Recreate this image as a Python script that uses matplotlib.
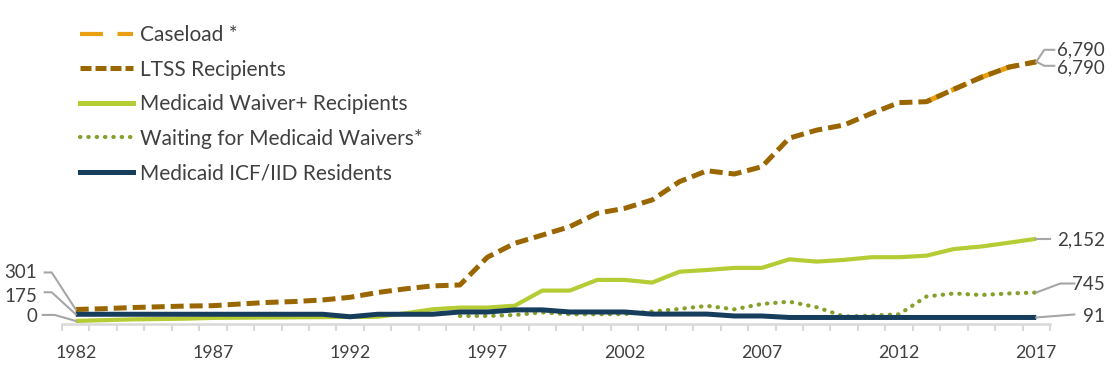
import matplotlib
matplotlib.use('Agg')
import matplotlib.pyplot as plt
from matplotlib.lines import Line2D
import numpy as np

plt.rcParams['font.family'] = ['Lato', 'DejaVu Sans']

years = list(range(1982, 2018))

ltss = [301, 320, 350, 370, 390, 400, 445, 485, 510, 550, 620, 745, 840, 918, 943,
        1670, 2035, 2250, 2470, 2820, 2950, 3170, 3650, 3935, 3850, 4040, 4790, 5000,
        5135, 5440, 5720, 5745, 6070, 6385, 6650, 6790]
# caseload only reported for recent years, same totals as LTSS
caseload = [np.nan] * 31 + [5745, 6070, 6385, 6650, 6790]
waiver = [0, 20, 40, 50, 60, 80, 85, 90, 95, 100, 105, 110, 200, 305, 350,
          350, 400, 795, 795, 1075, 1075, 1005, 1290, 1335, 1390, 1390, 1615, 1555,
          1600, 1670, 1670, 1710, 1885, 1950, 2050, 2152]
waiting = [np.nan] * 14 + [130, 130, 155, 225, 175, 175, 180, 245, 315, 395, 305,
                           445, 505, 360, 115, 140, 175, 640, 720, 680, 720, 745]
icf = [175, 175, 175, 175, 175, 175, 175, 175, 175, 175, 110, 175, 175, 175, 235,
       235, 290, 290, 235, 235, 235, 180, 180, 180, 130, 130, 91, 91, 91, 91, 91,
       91, 91, 91, 91, 91]

labels = ['Caseload *', 'LTSS Recipients', 'Medicaid Waiver+ Recipients',
          'Waiting for Medicaid Waivers*', 'Medicaid ICF/IID Residents']

c_case = '#e8a010'
c_ltss = '#996600'
c_waiver = '#b5cc35'
c_wait = '#86a02a'
c_icf = '#173d5c'
c_text = '#404040'
c_lead = '#a6a6a6'

W, H = 1112, 365
fig = plt.figure(figsize=(W / 100, H / 100), dpi=100)
# axes in pixel terms: left 62, right 1050, top 20, bottom 324
ax = fig.add_axes([62 / W, (H - 324) / H, (1050 - 62) / W, (324 - 20) / H])

ax.plot(years, caseload, color=c_case, lw=3.6, linestyle=(0, (3.4, 2.0)), dash_capstyle='butt')
ax.plot(years, ltss, color=c_ltss, lw=3.6, linestyle=(0, (2.6, 1.2)), dash_capstyle='butt')
ax.plot(years, waiver, color=c_waiver, lw=3.0, solid_capstyle='butt')
ax.plot(years, waiting, color=c_wait, lw=3.0, linestyle=(0, (0.1, 1.9)), dash_capstyle='round')
ax.plot(years, icf, color=c_icf, lw=3.6, solid_capstyle='butt')

ax.set_xlim(1981.5, 2017.5)
ax.set_ylim(-80, 7885)

for s in ['top', 'right', 'left']:
    ax.spines[s].set_visible(False)
ax.spines['bottom'].set_color('#d9d9d9')
ax.spines['bottom'].set_linewidth(1.8)
ax.set_yticks([])
ax.set_xticks(range(1982, 2018, 5))
ax.set_xticks(np.arange(1981.5, 2018, 1), minor=True)
ax.tick_params(axis='x', which='major', length=0, pad=15, labelsize=12.8, labelcolor=c_text)
ax.tick_params(axis='x', which='minor', length=5, width=1.5, color='#d9d9d9')

handles = [
    Line2D([], [], color=c_case, lw=3.0, linestyle=(0, (5.5, 3.5))),
    Line2D([], [], color=c_ltss, lw=3.6, linestyle=(0, (2.2, 0.8))),
    Line2D([], [], color=c_waiver, lw=3.6),
    Line2D([], [], color=c_wait, lw=3.0, linestyle=(0, (0.1, 1.9)), dash_capstyle='round'),
    Line2D([], [], color=c_icf, lw=3.6),
]
leg = ax.legend(handles, labels, loc='upper left', bbox_to_anchor=(80 / W, (H - 25) / H),
                bbox_transform=fig.transFigure, frameon=False, fontsize=15,
                handlelength=2.55, handletextpad=0.34, labelspacing=0.70, borderpad=0,
                borderaxespad=0)
for t in leg.get_texts():
    t.set_color(c_text)

fig.canvas.draw()


def to_px(x, y):
    return ax.transData.transform((x, y))


def leader(x, y, pts, txt, ha='right', tx=None, ty=None):
    px, py = to_px(x, y)
    xs = [px] + [px + dx for dx, dy in pts]
    ys = [py] + [py + dy for dx, dy in pts]
    fig.add_artist(Line2D(xs, ys, transform=None, color=c_lead, lw=1.5))
    fig.text(tx / W, (H - ty) / H, txt, ha=ha, va='center', fontsize=13.5, color=c_text)


# right side end labels
leader(2017, ltss[-1], [(8, 12), (18, 12)], f'{caseload[-1]:,.0f}', tx=1105, ty=50)
leader(2017, ltss[-1], [(8, -4), (18, -4)], f'{ltss[-1]:,.0f}', tx=1105, ty=68)
leader(2017, waiver[-1], [(14, 0)], f'{waiver[-1]:,.0f}', tx=1105, ty=240)
leader(2017, waiting[-1], [(24, 9), (38, 9)], f'{waiting[-1]:,.0f}', tx=1105, ty=284)
leader(2017, icf[-1], [(38, 3)], f'{icf[-1]:,.0f}', tx=1105, ty=316)

# left side start labels
leader(1982, ltss[0], [(-24, 37), (-31, 37)], f'{ltss[0]:,.0f}', tx=37, ty=272)
leader(1982, icf[0], [(-24, 22), (-31, 22)], f'{icf[0]:,.0f}', tx=37, ty=296)
leader(1982, waiver[0], [(-21, 6), (-33, 6)], f'{waiver[0]:,.0f}', tx=37, ty=316)

fig.savefig('out.png', dpi=100)
plt.close(fig)
